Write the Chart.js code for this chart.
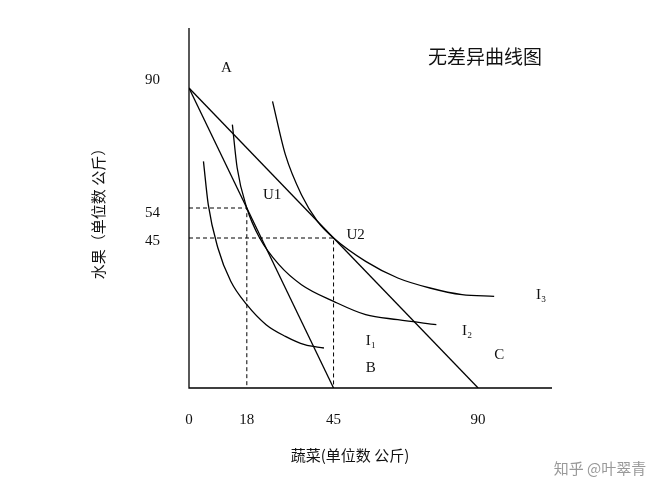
<!DOCTYPE html>
<html><head><meta charset="utf-8">
<script src="https://cdn.jsdelivr.net/npm/chart.js@4/dist/chart.umd.min.js"></script>
<style>body{margin:0;background:#fff}</style></head>
<body><canvas id="c" width="667" height="500"></canvas>
<script>
const budget1 = [[0,90],[45,0]];
const budget2 = [[0,90],[90,0]];
const curveI3 = [[26,86],[30,70],[35,58],[40,50],[45,45],[55,38],[65,33],[75,30],[85,28],[95,27.5]];
const curveI2 = [[13.5,79],[15,66],[18,54],[22,45],[28,37],[35,31],[45,26],[55,22],[65,20.5],[77,19]];
const curveI1 = [[4.5,68],[6,55],[9,42],[13,32],[18,25],[24,19],[30,15.5],[36,13],[42,12]];
const dashU1 = [[0,54],[18,54],[18,0]];
const dashU2 = [[0,45],[45,45],[45,0]];
const xTicks = [0,18,45,90];
const yTicks = [90,54,45];
const labels = [["A",10,96],["U1",23,58],["U2",49,46],["I₁",55,14],["B",55,6],["I₂",85,17],["C",95,10],["I₃",108,28]];

const pts = a => a.map(p=>({x:p[0],y:p[1]}));
const ds = (a,opt={}) => Object.assign({data:pts(a),borderColor:'#000',borderWidth:1.3,pointRadius:0,fill:false,tension:0,showLine:true},opt);
const serif = '"Liberation Serif","Noto Serif CJK SC","Noto Sans CJK SC",serif';
const plugin = {id:'deco',afterDraw(ch){
  const c=ch.ctx,x=ch.scales.x,y=ch.scales.y;
  c.save();c.strokeStyle='#000';c.lineWidth=1.3;c.beginPath();
  c.moveTo(x.getPixelForValue(0),y.getPixelForValue(108));c.lineTo(x.getPixelForValue(0),y.getPixelForValue(0));c.lineTo(x.getPixelForValue(113),y.getPixelForValue(0));c.stroke();
  c.fillStyle='#111';c.font='15px '+serif;c.textAlign='center';c.textBaseline='middle';
  xTicks.forEach(v=>c.fillText(String(v),x.getPixelForValue(v),420));
  c.textAlign='right';
  yTicks.forEach(v=>c.fillText(String(v),160,y.getPixelForValue(v)+(v===54?5:v===45?3:-8)));
  c.textAlign='left';
  labels.forEach(l=>c.fillText(l[0],x.getPixelForValue(l[1]),y.getPixelForValue(l[2])));
  c.font='19px "Noto Sans CJK SC",serif';c.textAlign='center';
  c.fillText('无差异曲线图',485,57);
  c.font='15px "Noto Sans CJK SC",serif';
  c.fillText('蔬菜(单位数 公斤)',350,455);
  c.save();c.translate(98,210);c.rotate(-Math.PI/2);c.fillText('水果（单位数 公斤）',0,0);c.restore();
  c.fillStyle='#999';c.font='15px "Noto Sans CJK SC",sans-serif';c.fillText('知乎 @叶翠青',600,468);
  c.restore();
}};
new Chart(document.getElementById('c'),{type:'scatter',
 data:{datasets:[ds(budget1),ds(budget2),ds(curveI3),ds(curveI2),ds(curveI1),
   ds(dashU1,{borderDash:[4,3],borderWidth:1}),ds(dashU2,{borderDash:[4,3],borderWidth:1})].map(d=>{if(d.data.length>2&&!d.borderDash)d.cubicInterpolationMode='monotone',d.tension=0.4;return d;})},
 options:{responsive:false,animation:false,layout:{padding:{left:189,right:115,top:28,bottom:112}},
  plugins:{legend:{display:false},tooltip:{enabled:false}},
  scales:{x:{type:'linear',min:0,max:113,display:false},y:{type:'linear',min:0,max:108,display:false}}},
 plugins:[plugin]});
</script></body></html>
